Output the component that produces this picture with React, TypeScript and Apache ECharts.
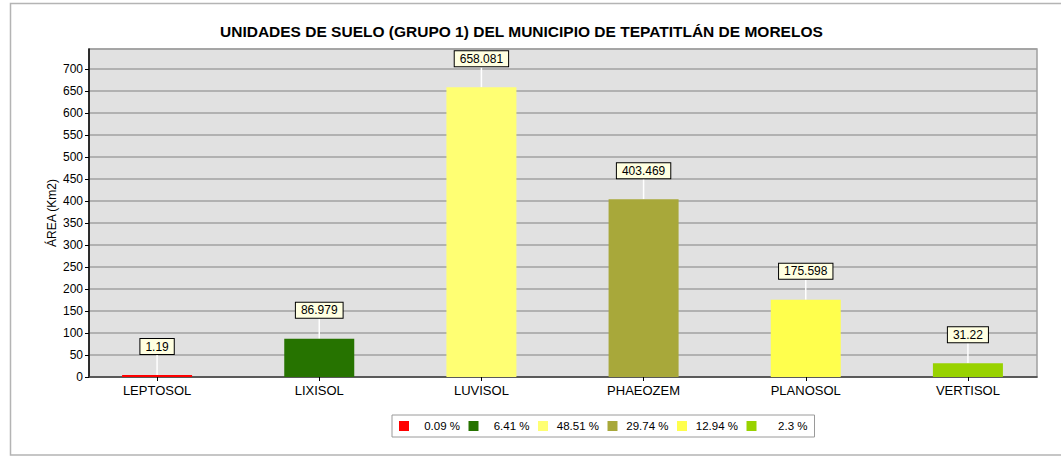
import React, { useEffect, useRef } from "react";
import * as echarts from "echarts";

const categories = ["LEPTOSOL", "LIXISOL", "LUVISOL", "PHAEOZEM", "PLANOSOL", "VERTISOL"];
const areas = [1.19, 86.979, 658.081, 403.469, 175.598, 31.22];
const percents = ["0.09 %", "6.41 %", "48.51 %", "29.74 %", "12.94 %", "2.3 %"];
const colors = ["#FF0000", "#267300", "#FFFF73", "#A8A83A", "#FFFF4D", "#98D200"];
const title = "UNIDADES DE SUELO (GRUPO 1) DEL MUNICIPIO DE TEPATITLÁN DE MORELOS";
const yName = "ÁREA (Km2)";

const FONT = "Liberation Sans, Arial, sans-serif";

export default function App() {
  const ref = useRef<HTMLDivElement>(null);
  useEffect(() => {
    document.body.style.margin = "0";
    const chart = echarts.init(ref.current!, null, { renderer: "svg" });
    const series = categories.map((c, i) => ({
      name: percents[i],
      type: "bar",
      xAxisIndex: 0,
      yAxisIndex: 0,
      barWidth: 70,
      barGap: "-100%",
      barMinHeight: 2,
      itemStyle: { color: colors[i] },
      data: categories.map((_, j) => (j === i ? areas[i] : "-")),
      label: {
        show: true,
        position: "top",
        distance: 0,
        color: "#000",
        fontFamily: FONT,
        fontSize: 12,
        lineHeight: 13,
        backgroundColor: "#FFFFE1",
        borderColor: "#000",
        borderWidth: 1,
        padding: [1, 5],
        formatter: (p: any) => String(p.value),
      },
      labelLayout: { dy: -21 },
      labelLine: { show: true, lineStyle: { color: "#FFFFFF", width: 1.5 } },
    }));
    chart.setOption({
      animation: false,
      textStyle: { fontFamily: FONT },
      title: {
        text: title,
        left: 220,
        top: 23,
        padding: 0,
        textStyle: { fontFamily: FONT, fontSize: 15.5, fontWeight: "bold", color: "#000" },
      },
      graphic: [
        {
          type: "rect",
          shape: { x: 10.5, y: 3.5, width: 1060, height: 451.5 },
          style: { fill: "none", stroke: "#B4B4B4", lineWidth: 1.5 },
          silent: true,
          z: -10,
        },
      ],
      legend: {
        left: 392,
        top: 415,
        orient: "horizontal",
        padding: [5, 7],
        itemWidth: 10,
        itemHeight: 10,
        itemGap: 8.5,
        icon: "rect",
        borderColor: "#9A9A9A",
        borderWidth: 1,
        data: percents,
        formatter: "{a|{name}}",
        textStyle: {
          fontFamily: FONT,
          fontSize: 11.5,
          color: "#000",
          rich: { a: { width: 46, align: "right", fontFamily: FONT, fontSize: 11.5, color: "#000" } },
        },
      },
      grid: [
        { left: 76, right: 12, top: 49, bottom: 81 },
        {
          left: 89,
          right: 24,
          top: 49,
          bottom: 81,
          show: true,
          backgroundColor: "#E1E1E1",
          borderColor: "#A0A0A0",
          borderWidth: 1.5,
          z: -1,
        },
      ],
      xAxis: [
        {
          type: "category",
          gridIndex: 0,
          data: categories,
          axisLine: { show: false },
          axisTick: { show: true, alignWithLabel: true, length: 4, lineStyle: { color: "#000" } },
          axisLabel: { color: "#000", fontFamily: FONT, fontSize: 13, margin: 7 },
          splitLine: { show: false },
        },
        {
          type: "value",
          gridIndex: 1,
          min: 0,
          max: 1,
          axisLine: { show: true, lineStyle: { color: "#404040", width: 1.5 } },
          axisTick: { show: false },
          axisLabel: { show: false },
          splitLine: { show: false },
        },
      ],
      yAxis: [
        {
          type: "value",
          gridIndex: 0,
          min: 0,
          max: 745,
          show: false,
          splitLine: { show: false },
        },
        {
          type: "value",
          gridIndex: 1,
          min: 0,
          max: 745,
          interval: 50,
          name: yName,
          nameLocation: "middle",
          nameGap: 31,
          nameMoveOverlap: false,
          nameTextStyle: { color: "#000", fontFamily: FONT, fontSize: 12 },
          axisLine: { show: true, lineStyle: { color: "#000", width: 1.5 } },
          axisTick: { show: true, length: 4, lineStyle: { color: "#000" } },
          axisLabel: { color: "#000", fontFamily: FONT, fontSize: 12, margin: 6, showMaxLabel: false },
          splitLine: { show: true, lineStyle: { color: "#A0A0A0", width: 1.5 } },
        },
      ],
      series,
    });
    return () => chart.dispose();
  }, []);
  return <div ref={ref} style={{ width: 1061, height: 458 }} />;
}
